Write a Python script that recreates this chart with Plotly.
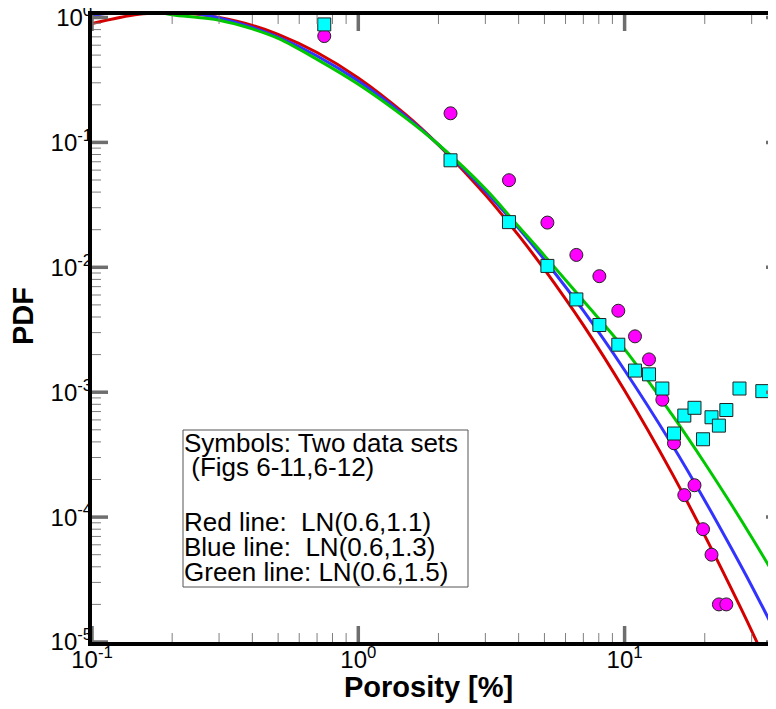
import plotly.graph_objects as go

# ---------------- data ----------------
line_x = [0.1, 0.15, 0.2, 0.25, 0.3, 0.4, 0.5, 0.7, 1.0, 1.5, 2.0, 3.0, 4.0, 5.0, 7.0, 10.0, 15.0, 20.0, 25.0, 30.0, 40.0]
red_y = [0.895, 1.06, 1.09, 1.06, 1.00, 0.865, 0.733, 0.524, 0.328, 0.168, 0.0955, 0.038, 0.0180, 0.00962,
         0.00344, 0.00103, 2.28e-4, 7.1e-5, 2.75e-5, 1.23e-5, 3.2e-6]
blue_y = [1.03, 1.17, 1.14, 1.07, 0.99, 0.831, 0.695, 0.492, 0.310, 0.163, 0.0959, 0.0407, 0.0205, 0.0115,
          0.00449, 0.00150, 3.86e-4, 1.36e-4, 5.78e-5, 2.81e-5, 8.5e-6]
green_y = [1.35, 1.2, 1.05, 1.0, 0.95, 0.81, 0.68, 0.462, 0.292, 0.158, 0.0962, 0.0425, 0.0212, 0.0124,
           0.0054, 0.00221, 6.7e-4, 2.7e-4, 1.29e-4, 6.9e-5, 2.48e-5]

circle_x = [0.745, 2.22, 3.68, 5.13, 6.59, 8.04, 9.47, 10.94, 12.35, 13.86, 15.33, 16.76, 18.3, 19.7, 21.2, 22.6, 24.1]
circle_y = [0.71, 0.171, 0.0498, 0.0228, 0.01256, 0.00849, 0.00449, 0.0028, 0.00183, 0.00087, 0.00039,
            0.00015, 0.00018, 8.0e-5, 5.0e-5, 2.0e-5, 2.0e-5]

square_x = [0.745, 2.22, 3.68, 5.13, 6.59, 8.04, 9.47, 10.94, 12.35, 13.86, 15.33, 16.76, 18.3, 19.7, 21.2,
            22.6, 24.1, 27.0, 32.9]
square_y = [0.88, 0.0719, 0.0230, 0.01026, 0.00553, 0.00345, 0.0024, 0.00149, 0.00139, 0.00107, 0.000467,
            0.00065, 0.00075, 0.00042, 0.00063, 0.00054, 0.00072, 0.00107, 0.00102]

x_tick_vals = [0.1, 1, 10]
x_tick_text = ["10<sup>-1</sup>", "10<sup>0</sup>", "10<sup>1</sup>"]
y_tick_vals = [1e-5, 1e-4, 1e-3, 1e-2, 1e-1, 1]
y_tick_text = ["10<sup>-5</sup>", "10<sup>-4</sup>", "10<sup>-3</sup>", "10<sup>-2</sup>", "10<sup>-1</sup>", "10<sup>0</sup>"]
x_minor_vals = [m * d for d in (0.1, 1, 10) for m in range(2, 10)]
y_minor_vals = [m * d for d in (1e-5, 1e-4, 1e-3, 1e-2, 1e-1) for m in range(2, 10)]

x_title = "<b>Porosity [%]</b>"
y_title = "<b>PDF</b>"
box_lines = ["Symbols: Two data sets",
             "\u00a0(Figs 6-11,6-12)",
             "Red line:\u00a0 LN(0.6,1.1)",
             "Blue line:\u00a0 LN(0.6,1.3)",
             "Green line: LN(0.6,1.5)"]

# ---------------- figure ----------------
# (the page has an 8px body margin, so figure px = screen px - 8)
FONT = "Liberation Sans, Arial, Helvetica, sans-serif"
W, H = 774, 701
ML, MR, MT, MB = 84, 0, 7, 67
PW, PH = W - ML - MR, H - MT - MB

yrange = [-5, 0.02]
xrange = [-1, -1 + PW / 266.3]
x_lo, x_hi = 10 ** xrange[0], 10 ** xrange[1]
y_lo, y_hi = 10 ** yrange[0], 10 ** yrange[1]

fig = go.Figure()
for ys, col in ((red_y, "#d40000"), (blue_y, "#3333ff"), (green_y, "#00c800")):
    fig.add_trace(go.Scatter(x=line_x, y=ys, mode="lines", line=dict(color=col, width=3, shape="spline"),
                             showlegend=False, hoverinfo="skip"))
fig.add_trace(go.Scatter(x=circle_x, y=circle_y, mode="markers",
                         marker=dict(symbol="circle", size=13, color="#ff00ff",
                                     line=dict(color="#222222", width=1)), showlegend=False))
fig.add_trace(go.Scatter(x=square_x, y=square_y, mode="markers",
                         marker=dict(symbol="square", size=13, color="#00ffff",
                                     line=dict(color="#222222", width=1)), showlegend=False))

# inside tick marks on all four sides: line-shaped markers centred on the frame,
# the outer half is clipped away by the plot area (half-length = 0.7 * size)
def tick_trace(xs, ys, symbol, length, width, color):
    return go.Scatter(x=xs, y=ys, mode="markers", showlegend=False, hoverinfo="skip", cliponaxis=True,
                      marker=dict(symbol=symbol, size=length / 0.7, color=color,
                                  line=dict(color=color, width=width)))

MINOR_COL, MAJOR_COL = "#7f7f7f", "#6e6e6e"
fig.add_trace(tick_trace(x_minor_vals * 2, [y_lo] * len(x_minor_vals) + [y_hi] * len(x_minor_vals),
                         "line-ns-open", 9, 1, MINOR_COL))
fig.add_trace(tick_trace([x_lo] * len(y_minor_vals) + [x_hi] * len(y_minor_vals), y_minor_vals * 2,
                         "line-ew-open", 9, 1, MINOR_COL))
fig.add_trace(tick_trace(x_tick_vals * 2, [y_lo] * len(x_tick_vals) + [y_hi] * len(x_tick_vals),
                         "line-ns-open", 16, 3.5, MAJOR_COL))
fig.add_trace(tick_trace([x_lo] * len(y_tick_vals) + [x_hi] * len(y_tick_vals), y_tick_vals * 2,
                         "line-ew-open", 16, 3.5, MAJOR_COL))

common = dict(type="log", showgrid=False, zeroline=False, automargin=False,
              showline=True, linecolor="black", linewidth=4, ticks="", ticklabeloverflow="allow")

fig.update_layout(
    template="none",
    width=W, height=H,
    margin=dict(l=ML, r=MR, t=MT, b=MB, pad=0, autoexpand=False),
    paper_bgcolor="white", plot_bgcolor="white",
    font=dict(family=FONT, color="black"),
    xaxis=dict(range=xrange, mirror=True,
               tickmode="array", tickvals=x_tick_vals, ticktext=x_tick_text,
               tickfont=dict(size=24, family=FONT, color="black"), ticklabelstandoff=-7,
               **common),
    yaxis=dict(range=yrange, mirror=True,
               tickmode="array", tickvals=y_tick_vals, ticktext=y_tick_text,
               tickfont=dict(size=24, family=FONT, color="black"), ticklabelstandoff=-9,
               **common),
)

def px2paper_x(px):
    return (px - ML) / PW

def py2paper_y(py):
    return (H - MB - py) / PH

# axis titles
fig.add_annotation(xref="paper", yref="paper", x=px2paper_x(428 - 8), y=py2paper_y(687 - 8),
                   xanchor="center", yanchor="middle", text=x_title, showarrow=False,
                   font=dict(size=29, family=FONT, color="black"))
fig.add_annotation(xref="paper", yref="paper", x=px2paper_x(23 - 8), y=py2paper_y(316 - 8),
                   xanchor="center", yanchor="middle", text=y_title, showarrow=False, textangle=-90,
                   font=dict(size=29, family=FONT, color="black"))

# annotation box
fig.add_shape(type="rect", xref="paper", yref="paper",
              x0=px2paper_x(183 - 8), x1=px2paper_x(468 - 8), y0=py2paper_y(587 - 8), y1=py2paper_y(430 - 8),
              line=dict(color="#555555", width=1), fillcolor="rgba(0,0,0,0)", layer="above")

line_centers = [443, 467, 522, 547, 572]
for txt, cy in zip(box_lines, line_centers):
    fig.add_annotation(xref="paper", yref="paper", x=px2paper_x(182 - 8), y=py2paper_y(cy - 8),
                       xanchor="left", yanchor="middle", text=txt, showarrow=False,
                       font=dict(size=26, family=FONT, color="black"), align="left")

fig.write_html("out.html")
